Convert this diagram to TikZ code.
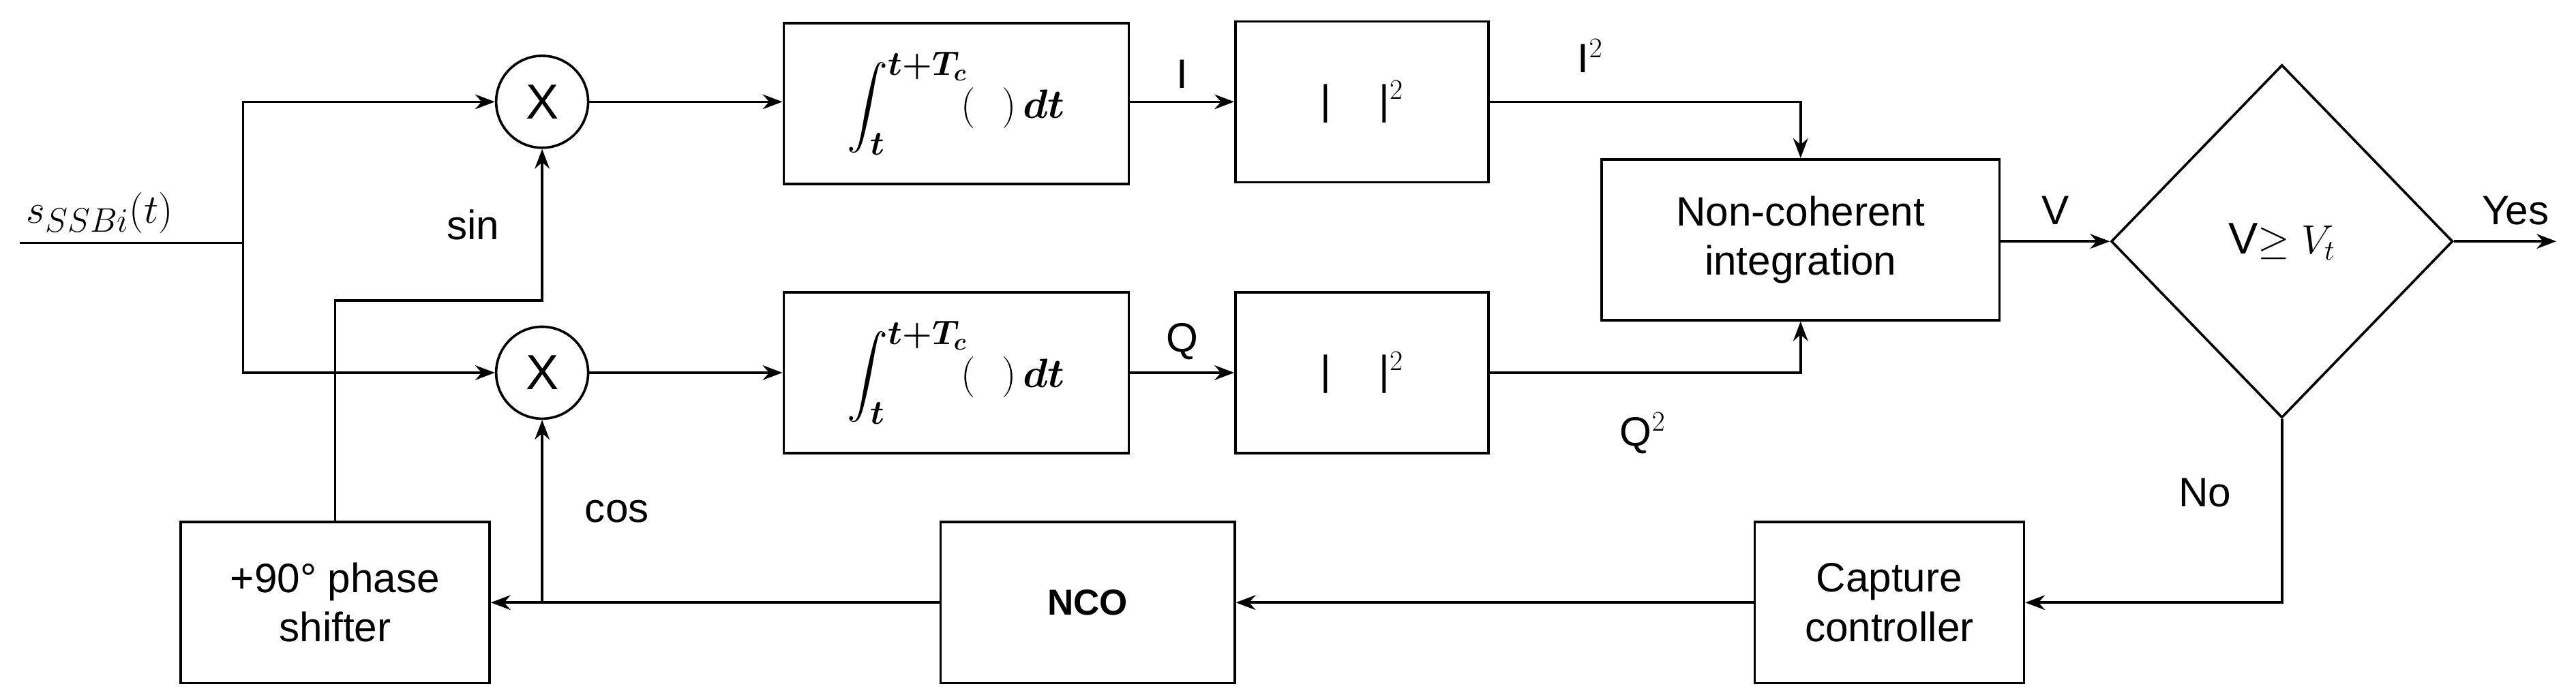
\documentclass[tikz,border=0pt]{standalone}
\usepackage{amsmath,bm}
\usepackage{fontspec}
\setmainfont{Liberation Sans}
\usetikzlibrary{arrows.meta,shapes.geometric}
\begin{document}
\begin{tikzpicture}[x=1pt,y=-1pt,line width=1.5pt,
  box/.style={draw,minimum width=#1,minimum height=98pt,inner sep=0pt,align=center,font=\fontsize{25}{30}\selectfont},
  mix/.style={draw,circle,minimum size=56pt,inner sep=0pt,font=\fontsize{30}{30}\selectfont},
  lab/.style={font=\fontsize{25}{30}\selectfont},
  arr/.style={-{Stealth[length=12pt,width=9pt]}}]
\useasboundingbox (0,0) rectangle (1568,422);
\node[mix] (m1) at (330,62) {X};
\node[mix] (m2) at (330,227) {X};
\newcommand{\intg}{\fontsize{29}{34}\selectfont$\displaystyle\int_{\bm t}^{\bm{t+T_c}}\!(\ \ )\,\bm{dt}$}
\node[box=210pt] (i1) at (582,63) {\intg};
\node[box=210pt] (i2) at (582,227) {\intg};
\node[box=154pt] (s1) at (829,62) {|\quad\,|$^2$};
\node[box=154pt] (s2) at (829,227) {|\quad\,|$^2$};
\node[box=242pt] (nc) at (1096,146) {Non-coherent\\integration};
\node[draw,diamond,aspect=0.97,minimum width=208pt,minimum height=215pt,inner sep=0pt,font=\fontsize{27}{30}\selectfont] (d) at (1389,147) {V$\geq V_t$};
\node[box=164pt] (cc) at (1150,367) {Capture\\controller};
\node[box=179pt,font=\fontsize{22}{30}\selectfont\bfseries] (nco) at (662,367) {NCO};
\node[box=188pt] (ps) at (204,367) {+90° phase\\shifter};
\coordinate (in) at (12,148);
\coordinate (j) at (148,148);
\coordinate (yes) at (1556,147);
\node[font=\fontsize{29}{30}\selectfont,anchor=south west] at (12,146) {$s_{SSBi}(t)$};
\draw (in) -- (j);
\draw[arr] (j) |- (m1.west);
\draw[arr] (j) |- (m2.west);
\draw[arr] (m1) -- (i1.west|-m1);
\draw[arr] (m2) -- (i2.west|-m2);
\draw[arr] (i1.east|-m1) -- node[lab,above=4pt]{I} (s1.west|-m1);
\draw[arr] (i2.east|-m2) -- node[lab,above=4pt]{Q} (s2.west|-m2);
\draw[arr] (s1.east|-m1) -| (nc.north);
\draw[arr] (s2.east|-m2) -| (nc.south);
\node[lab] at (968,34) {I$^2$};
\node[lab] at (1000,264) {Q$^2$};
\draw[arr] (nc.east|-d) -- node[lab,above=6pt]{V} (d.west);
\draw[arr] (d.east) -- node[lab,above=6pt,pos=0.6]{Yes} (yes);
\draw[arr] (d.south) |- (cc.east);
\node[lab] at (1342,300) {No};
\draw[arr] (cc.west) -- (nco.east);
\draw[arr] (nco.west) -- (ps.east);
\draw[arr] (330,367) -- node[lab,pos=0.5,right=22pt]{cos} (m2.south);
\draw[arr] (ps.north) |- (330,183) -- node[lab,pos=0.5,left=22pt]{sin} (m1.south);
\end{tikzpicture}
\end{document}
